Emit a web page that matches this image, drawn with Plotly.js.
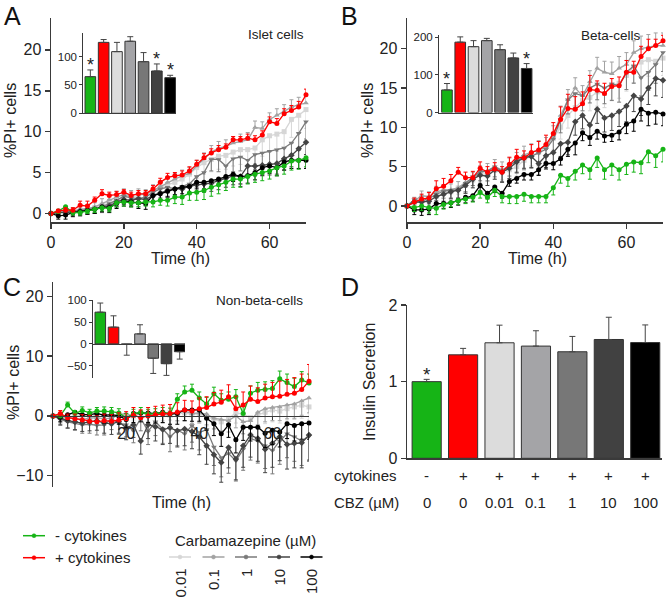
<!DOCTYPE html>
<html><head><meta charset="utf-8">
<script src="https://cdn.plot.ly/plotly-3.0.1.min.js"></script>
<style>html,body{margin:0;padding:0;background:#fff}#plot{width:667px;height:599px}</style>
</head><body><div id="plot"></div>
<script>
// ---------- DATA ----------
const time = [0,2,4,6,8,10,12,14,16,18,20,22,24,26,28,30,32,34,36,38,40,42,44,46,48,50,52,54,56,58,60,62,64,66,68,70];

// Panel A: Islet cells
const aGreen = [0,0.3,0.8,0.1,0.1,0.3,0.5,0.7,0.6,1.3,1.4,1.3,1.3,1.4,1.4,1.6,1.6,2.0,2.0,2.5,2.6,2.8,3.2,3.5,3.8,4.2,4.2,4.5,4.8,5.0,5.2,5.6,5.8,6.4,6.5,6.8];
const aRed   = [0,0.3,0.4,0.4,1.0,0.9,1.6,2.4,2.2,2.3,2.6,2.2,2.4,2.4,3.0,3.8,4.4,4.6,4.7,5.2,6.0,6.8,7.4,7.8,8.1,9.0,9.0,9.2,9.0,9.6,11.2,11.0,12.2,12.6,13.0,14.5];
const aC001  = [0,0.1,0.2,0.3,0.4,0.5,0.7,1.0,1.3,1.7,2.0,2.0,2.2,2.4,2.7,3.2,3.5,3.8,4.2,4.8,5.6,6.2,6.6,7.0,7.1,7.5,7.8,7.8,8.0,9.0,9.5,9.7,10.0,11.5,12.0,12.7];
const aC01   = [0,0.2,0.3,0.3,0.5,0.6,0.8,1.2,1.7,2.0,2.3,2.2,2.4,2.3,2.8,3.3,3.8,4.2,4.6,4.9,5.8,6.7,7.5,8.0,8.2,8.6,8.8,9.0,10.5,10.4,11.5,12.0,12.5,13.0,13.3,13.5];
const aC1    = [0,0.1,0.2,0.2,0.3,0.5,0.6,0.8,1.2,1.6,2.1,1.9,1.8,2.0,2.6,3.0,3.2,3.0,3.3,3.6,4.5,5.0,6.6,6.6,5.8,6.7,6.9,6.5,7.2,7.4,7.6,7.8,8.0,8.6,9.8,11.2];
const aC10   = [0,0.1,0.1,0.2,0.3,0.4,0.5,0.7,0.9,1.4,1.7,1.6,1.8,1.7,2.2,2.5,2.8,3.0,3.0,3.3,3.5,3.6,3.7,4.0,4.3,4.6,4.5,5.8,5.8,5.9,6.0,6.1,6.7,7.1,7.9,8.7];
const aC100  = [0,-0.3,-0.2,0.1,0.2,0.4,0.5,0.8,0.7,1.2,1.5,1.4,1.3,1.2,2.2,2.4,2.7,3.0,3.2,3.3,3.8,3.8,4.0,4.2,4.5,4.8,4.5,4.6,5.0,5.6,5.8,5.6,6.3,6.5,6.5,6.5];
const aGreenErr = [0,0.3,0.4,0.3,0.3,0.3,0.4,0.4,0.4,0.5,0.5,0.5,0.5,0.5,0.6,0.6,0.7,0.8,0.9,0.9,1.0,1.1,1.1,1.1,1.0,1.0,1.0,0.9,1.0,1.0,1.0,1.0,1.0,1.1,1.1,1.1];
const aRedErr   = [0,0.2,0.3,0.3,0.5,0.6,0.4,0.5,0.4,0.4,0.3,0.4,0.4,0.4,0.4,0.5,0.5,0.4,0.5,0.5,0.5,0.5,0.5,0.5,0.4,0.4,0.4,0.5,0.5,0.5,0.6,0.6,0.6,0.6,0.7,0.7];
const aC001Err  = [0,0.3,0.4,0.4,0.5,0.5,0.6,0.6,0.7,0.7,0.7,0.8,0.8,0.8,0.8,0.9,1.0,1.0,1.1,1.2,1.3,1.4,1.5,1.6,1.7,1.7,1.8,1.8,1.9,2.0,2.0,2.1,2.1,2.2,2.2,2.3];
const aC01Err   = [0,0.3,0.4,0.4,0.5,0.5,0.5,0.6,0.6,0.7,0.7,0.6,0.6,0.6,0.7,0.7,0.7,0.7,0.7,0.7,0.7,0.7,0.8,0.8,0.8,0.8,0.9,0.9,0.8,0.8,0.8,0.8,0.8,0.9,0.9,0.9];
const aC1Err    = [0,0.3,0.4,0.5,0.5,0.6,0.6,0.7,0.8,0.8,0.9,0.9,1.0,1.0,1.0,1.1,1.1,1.2,1.2,1.3,1.3,1.4,1.4,1.5,1.6,1.6,1.7,1.7,1.8,1.8,1.9,1.9,2.0,2.0,2.1,2.1];
const aC10Err   = [0,0.3,0.3,0.4,0.4,0.5,0.5,0.5,0.6,0.6,0.6,0.7,0.7,0.7,0.8,0.8,0.8,0.9,0.9,0.9,1.0,1.0,1.0,1.1,1.1,1.1,1.2,1.2,1.2,1.3,1.3,1.3,1.4,1.4,1.4,1.5];
const aC100Err  = [0,0.4,0.5,0.5,0.5,0.5,0.5,0.6,0.6,0.6,0.6,0.6,0.7,0.7,0.7,0.7,0.7,0.7,0.8,0.8,0.8,0.8,0.8,0.8,0.8,0.9,0.9,0.9,0.9,0.9,0.9,1.0,1.0,1.0,1.0,1.0];

// Panel B: Beta-cells
const bGreen = [0,-0.2,0,-0.2,-0.3,0.2,0.4,0.7,0.9,1.1,1.7,1.1,2.0,1.2,1.2,1.2,1.5,1.2,1.2,1.2,2.3,3.9,3.5,4.4,5.2,4.6,6.1,4.6,5.2,4.6,5.3,5.6,5.5,6.9,6.4,7.2];
const bRed   = [0,0.5,0.9,1.0,2.2,2.5,3.2,4.3,3.6,3.6,4.8,4.3,4.7,4.3,5.3,6.2,6.1,6.8,7.1,7.8,9.2,11.0,12.4,12.3,13.0,14.8,14.7,14.3,15.2,15.3,17.0,17.0,19.0,20.0,20.4,21.0];
const bC001  = [0,0.3,0.6,0.8,1.2,1.6,1.8,2.3,2.6,3.3,4.0,4.1,4.5,4.4,4.6,5.0,5.8,6.4,6.8,7.6,8.6,10.0,11.5,12.5,13.4,13.8,14.5,14.3,15.4,15.6,16.6,17.7,18.3,18.6,18.4,18.8];
const bC01   = [0,0.6,1.3,1.2,1.8,2.0,2.1,2.3,3.0,3.5,4.2,4.5,5.0,4.6,5.1,5.8,6.5,6.8,7.2,7.5,9.0,11.5,13.5,15.0,14.0,15.8,17.5,17.0,16.8,17.5,18.0,19.5,20.0,20.2,20.4,20.4];
const bC1    = [0,0.8,0.6,1.0,1.5,1.9,2.0,2.0,2.9,3.7,4.4,4.4,5.0,4.4,5.2,5.7,6.3,6.3,6.7,7.2,8.5,11.0,13.5,14.3,14.0,15.0,15.5,15.0,15.5,15.3,17.0,17.8,16.3,17.0,18.0,19.5];
const bC10   = [0,0.5,0.5,0.6,1.2,1.5,1.8,2.0,2.6,3.4,3.9,3.8,4.6,4.3,4.8,5.6,6.1,6.3,5.4,6.4,6.8,7.9,8.1,10.7,11.5,10.3,12.3,11.2,11.5,12.0,12.7,14.0,13.6,15.0,16.2,16.0];
const bC100  = [0,-0.5,-0.5,-0.4,0.3,0.3,0.4,0.7,1.1,1.3,2.6,1.6,2.4,1.6,3.1,3.5,4.0,4.0,4.6,5.4,5.4,6.0,7.2,8.0,9.3,8.7,9.5,8.9,9.0,9.4,10.4,10.8,12.3,11.8,11.9,11.7];
const bGreenErr = [0,0.5,0.6,0.7,0.8,0.6,0.5,0.5,0.6,0.6,0.7,0.7,0.8,0.8,0.9,0.9,0.9,0.8,0.8,0.8,0.9,1.0,1.0,1.1,1.1,1.2,1.2,1.2,1.3,1.3,1.3,1.3,1.4,1.4,1.5,1.6];
const bRedErr   = [0,0.5,0.6,0.7,1.0,1.0,0.8,0.6,0.7,0.8,0.8,0.7,0.8,0.7,0.9,1.0,0.9,1.0,1.1,1.2,1.4,1.6,1.8,1.6,1.5,1.8,1.2,1.3,1.0,1.1,1.5,1.4,1.3,1.2,0.8,0.7];
const bC001Err  = [0,0.5,0.6,0.6,0.7,0.7,0.8,0.8,0.9,0.9,1.0,1.0,1.1,1.1,1.2,1.2,1.3,1.3,1.4,1.4,1.5,1.5,1.6,1.6,1.7,1.7,1.8,1.8,1.9,1.9,2.0,2.0,2.1,2.1,2.2,2.2];
const bC01Err   = [0,0.5,0.6,0.6,0.7,0.7,0.7,0.8,0.8,0.8,0.9,0.9,0.9,1.0,1.0,1.0,1.1,1.1,1.1,1.2,1.2,1.2,1.3,1.3,1.3,1.4,1.4,1.4,1.5,1.5,1.5,1.5,1.6,1.6,1.6,1.6];
const bC1Err    = [0,0.5,0.6,0.7,0.8,0.9,1.0,1.0,1.1,1.1,1.2,1.2,1.3,1.3,1.4,1.4,1.5,1.5,1.6,1.6,1.7,1.7,1.8,1.8,1.9,1.9,2.0,2.0,2.1,2.1,2.2,2.2,2.3,2.3,2.4,2.4];
const bC10Err   = [0,0.6,0.6,0.7,0.8,0.9,0.9,1.0,1.0,1.1,1.1,1.2,1.2,1.3,1.3,1.4,1.4,1.4,1.5,1.5,1.5,1.6,1.6,1.7,1.7,1.8,1.8,1.8,1.9,1.9,2.0,2.0,2.1,2.1,2.2,2.2];
const bC100Err  = [0,0.6,0.7,0.7,0.7,0.6,0.6,0.6,0.7,0.7,0.7,0.7,0.7,0.6,0.6,0.6,0.7,0.7,0.7,0.7,0.8,0.8,0.9,1.5,1.0,1.0,1.0,0.8,0.8,1.0,1.2,1.3,1.5,1.6,1.5,1.5];

// Panel C: Non-beta-cells
const cGreen = [0,0,1.8,0.4,0.9,0.5,0.8,0.8,0.7,0.5,-0.3,0.3,0.6,0.3,0.4,0.5,0.4,2.8,4.0,4.3,3.0,2.0,3.7,2.6,2.8,3.2,0.4,3.8,4.3,4.4,4.6,6.2,5.6,4.9,6.0,5.5];
const cRed   = [0,0.4,-0.3,-0.5,-0.7,-0.9,-1.0,-0.8,-0.9,-0.7,-0.5,0.1,-0.3,0,0.2,0.3,0.4,0.6,1.0,0.8,1.2,1.4,2.0,2.3,3.2,1.2,1.8,2.8,2.4,3.0,3.2,3.3,3.6,3.8,4.4,5.8];
const cC001  = [0,-0.2,-0.3,0.0,0.1,-0.2,0.2,0.3,0.0,0.2,0.1,0.3,0.5,0.2,0.2,0.4,0.6,0.3,0.5,0.2,0.4,-0.2,-0.5,-1.0,-0.4,0.5,0.3,-0.3,0.2,0.6,1.0,0.8,1.2,1.5,1.8,1.5];
const cC01   = [0,-0.4,-0.3,-0.5,-0.6,-0.4,-0.3,-0.5,-0.4,0.2,0.4,-0.2,0.6,0.2,0.4,0.3,0.0,0.8,0.8,0.4,0.5,0.3,-0.4,-0.6,-0.8,0.0,-1.0,-0.8,0.6,1.2,1.4,1.5,1.8,2.0,2.5,3.0];
const cC1    = [0,-0.6,-1.0,-1.2,-1.5,-1.4,-1.6,-1.5,-0.5,-1.2,-1.5,-2.5,-0.4,-2.6,-1.0,-2.2,-3.5,-2.4,-3.0,-1.6,-2.8,-2.3,-5.2,-7.0,-6.3,-7.5,-5.6,-3.8,-4.2,-5.0,-5.8,-4.2,-3.0,-3.5,-4.2,-3.4];
const cC10   = [0,-0.4,-0.8,-1.0,-1.2,-1.0,-0.8,-1.2,-1.3,-1.0,-2.0,-1.5,-4.2,-1.5,-1.8,-2.3,-2.0,-2.5,-2.2,-2.6,-3.5,-5.0,-6.5,-7.8,-5.3,-7.2,-5.0,-3.2,-3.8,-5.6,-4.6,-3.5,-4.8,-4.6,-4.5,-3.2];
const cC100  = [0,-0.2,0.2,0.6,0.2,0.2,0.4,0.1,0.2,0.0,-0.6,0.4,0.5,0.5,0.4,0.6,0.3,0.4,1.0,1.0,1.0,-0.4,-1.3,-3.0,-1.5,-4.0,-1.9,-1.9,-1.9,-2.9,-2.4,-2.7,-1.3,-1.6,-1.3,-1.2];
const cGreenErr = [0,0.4,0.5,0.5,0.6,0.6,0.6,0.7,0.7,0.7,0.7,0.8,0.8,0.8,0.8,0.9,0.9,0.9,1.0,1.0,1.0,1.1,1.1,1.1,1.2,1.2,1.2,1.2,1.3,1.3,1.3,1.3,1.4,1.4,1.4,1.5];
const cRedErr   = [0,0.5,0.6,0.8,0.9,1.0,1.0,1.1,1.1,1.2,1.2,1.3,1.3,1.4,1.4,1.5,1.5,1.6,1.6,1.7,1.8,1.8,1.9,2.0,2.0,2.1,2.2,2.2,2.3,2.3,2.4,2.5,2.5,2.6,2.6,2.8];
const cC001Err  = [0,0.5,0.6,0.6,0.7,0.7,0.8,0.8,0.9,0.9,1.0,1.0,1.1,1.1,1.2,1.2,1.3,1.3,1.4,1.4,1.5,1.5,1.6,1.6,1.7,1.7,1.8,1.8,1.9,1.9,2.0,2.0,2.1,2.1,2.2,2.2];
const cC01Err   = [0,0.6,0.7,0.8,0.9,1.0,1.0,1.1,1.1,1.2,1.2,1.3,1.3,1.4,1.4,1.5,1.5,1.6,1.6,1.7,1.7,1.8,1.8,1.9,1.9,2.0,2.0,2.1,2.1,2.2,2.2,2.3,2.3,2.4,2.4,2.5];
const cC1Err    = [0,1.0,1.1,1.2,1.4,1.5,1.6,1.7,1.8,1.9,2.0,2.0,2.1,2.2,2.3,2.4,2.5,2.6,2.7,2.8,2.9,3.0,3.1,3.2,3.3,3.4,3.5,3.6,3.7,3.8,3.9,3.9,4.0,4.1,4.1,4.2];
const cC10Err   = [0,1.0,1.2,1.3,1.4,1.5,1.6,1.7,1.8,1.9,2.0,2.1,2.2,2.3,2.4,2.5,2.6,2.7,2.8,2.9,3.0,3.1,3.2,3.3,3.4,3.5,3.6,3.7,3.8,3.9,4.0,4.0,4.1,4.1,4.2,4.2];
const cC100Err  = [0,0.8,0.9,1.0,1.1,1.2,1.2,1.3,1.3,1.4,1.4,1.5,1.5,1.6,1.6,1.7,1.7,1.8,1.8,1.9,1.9,2.0,2.0,2.1,2.1,2.2,2.2,2.3,2.3,2.4,2.4,2.5,2.5,2.6,2.6,2.7];

// Bar groups (insets and panel D)
const conds = ['- cyt', '+ cyt', 'CBZ 0.01', 'CBZ 0.1', 'CBZ 1', 'CBZ 10', 'CBZ 100'];
const insetA = [64.6, 125, 108.7, 127, 91, 74.6, 62.8];
const insetAErr = [11.8, 5, 16.3, 8, 16, 12.4, 4.2];
const insetAStar = [1, 0, 0, 0, 0, 1, 1];
const insetB = [60, 187, 175, 191, 167, 145, 117];
const insetBErr = [17, 14, 16, 6, 13, 13, 13];
const insetBStar = [1, 0, 0, 0, 0, 0, 1];
const insetC = [73, 38.6, -1, 23, -33, -45.5, -18];
const insetCErr = [21, 26, 25, 21, 35, 27, 17];
const insulin = [1.0, 1.35, 1.507, 1.464, 1.39, 1.55, 1.51];
const insulinErr = [0.03, 0.084, 0.23, 0.2, 0.2, 0.29, 0.23];
const insulinStar = [1, 0, 0, 0, 0, 0, 0];
const cytokineSigns = ['-', '+', '+', '+', '+', '+', '+'];
const cbzLabels = ['0', '0', '0.01', '0.1', '1', '10', '100'];
const cbzLegend = ['0.01', '0.1', '1', '10', '100'];

// ---------- STYLE ----------
const W = 667, H = 599;
const fx = p => p / W;
const fy = p => 1 - p / H;
const GREEN = '#16b416', RED = '#ff0000';
const barColors = [GREEN, RED, '#dcdcdc', '#a4a4a7', '#777777', '#414141', '#000000'];
const cbzColors = ['#d6d6d6', '#a2a2a2', '#7a7a7a', '#444444', '#000000'];
const cbzSymbols = ['square', 'triangle-up', 'triangle-down', 'diamond', 'circle'];
const FONT = 'Liberation Sans, Arial, sans-serif';
const AX = '#3a3a3a';

function lineTrace(xa, ya, y, err, up, color, symbol) {
  const zeros = err.map(() => 0);
  return {
    type: 'scatter', mode: 'lines+markers', x: time, y: y, xaxis: xa, yaxis: ya,
    line: {color: color, width: 1.3}, marker: {color: color, size: 5, symbol: symbol},
    cliponaxis: false,
    error_y: {type: 'data', symmetric: false, array: up ? err : zeros, arrayminus: up ? zeros : err,
              color: color, thickness: 1, width: 2}
  };
}
function barTrace(xa, ya, vals, errs) {
  return {
    type: 'bar', x: conds, y: vals, xaxis: xa, yaxis: ya, width: 0.8,
    marker: {color: barColors, line: {color: '#333', width: 1}},
    error_y: {type: 'data', symmetric: false,
              array: errs.map((e, i) => vals[i] >= 0 ? e : 0),
              arrayminus: errs.map((e, i) => vals[i] < 0 ? e : 0),
              color: '#444', thickness: 1, width: 3}
  };
}

const traces = [];
function panelLines(xa, ya, g, r, cs, ge, re, ces, gUp, rUp, cUps) {
  for (let k = 0; k < 5; k++) traces.push(lineTrace(xa, ya, cs[k], ces[k], cUps[k], cbzColors[k], cbzSymbols[k]));
  traces.push(lineTrace(xa, ya, g, ge, gUp, GREEN, 'circle'));
  traces.push(lineTrace(xa, ya, r, re, rUp, RED, 'circle'));
}
panelLines('x', 'y', aGreen, aRed, [aC001, aC01, aC1, aC10, aC100], aGreenErr, aRedErr,
  [aC001Err, aC01Err, aC1Err, aC10Err, aC100Err], false, true, [false, true, false, false, false]);
panelLines('x2', 'y2', bGreen, bRed, [bC001, bC01, bC1, bC10, bC100], bGreenErr, bRedErr,
  [bC001Err, bC01Err, bC1Err, bC10Err, bC100Err], false, true, [false, true, false, false, false]);
panelLines('x3', 'y3', cGreen, cRed, [cC001, cC01, cC1, cC10, cC100], cGreenErr, cRedErr,
  [cC001Err, cC01Err, cC1Err, cC10Err, cC100Err], true, true, [false, false, false, false, false]);

traces.push(barTrace('x4', 'y4', insulin, insulinErr));
traces.push(barTrace('x5', 'y5', insetA, insetAErr));
traces.push(barTrace('x6', 'y6', insetB, insetBErr));
traces.push(barTrace('x7', 'y7', insetC, insetCErr));

function ax(o) {
  return Object.assign({showgrid: false, zeroline: false, showline: true, linecolor: AX, linewidth: 1.5,
    ticks: 'outside', ticklen: 5, tickwidth: 1.5, tickcolor: AX, fixedrange: true,
    tickfont: {size: 16, color: '#222', family: FONT}}, o);
}
function inset(o) {
  return ax(Object.assign({linewidth: 1, tickwidth: 1, ticklen: 3, tickfont: {size: 11.5, color: '#222', family: FONT}}, o));
}
const cYRange = [-11.9, 22.4], cYDom = [fy(487), fy(282)];
const cZero = cYDom[0] + (0 - cYRange[0]) / (cYRange[1] - cYRange[0]) * (cYDom[1] - cYDom[0]);
const i7YRange = [-78.5, 101], i7YDom = [fy(378), fy(300)];
const i7Zero = i7YDom[0] + (0 - i7YRange[0]) / (i7YRange[1] - i7YRange[0]) * (i7YDom[1] - i7YDom[0]);

const layout = {
  width: W, height: H, margin: {l: 0, r: 0, t: 0, b: 0},
  paper_bgcolor: '#fff', plot_bgcolor: 'rgba(0,0,0,0)', showlegend: false,
  font: {family: FONT, size: 16, color: '#222'},
  xaxis: ax({domain: [fx(51), fx(306)], range: [0, 70], tickvals: [0, 20, 40, 60], anchor: 'y'}),
  yaxis: ax({domain: [fy(222), fy(18)], range: [-1.05, 23.9], tickvals: [0, 5, 10, 15, 20], anchor: 'x'}),
  xaxis2: ax({domain: [fx(407), fx(663)], range: [0, 70], tickvals: [0, 20, 40, 60], anchor: 'y2'}),
  yaxis2: ax({domain: [fy(222), fy(18)], range: [-2.04, 23.9], tickvals: [0, 5, 10, 15, 20], anchor: 'x2'}),
  xaxis3: ax({domain: [fx(53), fx(309)], range: [0, 70], tickvals: [20, 40, 60], anchor: 'free', position: cZero, ticklen: 3, linewidth: 1.2}),
  yaxis3: ax({domain: cYDom, range: cYRange, tickvals: [-10, 0, 10, 20], anchor: 'x3'}),
  xaxis4: ax({domain: [fx(407), fx(662)], type: 'category', range: [-0.54, 6.46], showticklabels: false, ticks: '', anchor: 'y4'}),
  yaxis4: ax({domain: [fy(458.3), fy(305)], range: [0, 2], tickvals: [0, 1, 2], anchor: 'x4'}),
  xaxis5: inset({domain: [fx(83.3), fx(176)], type: 'category', range: [-0.53, 6.44], showticklabels: false, ticks: '', anchor: 'y5'}),
  yaxis5: inset({domain: [fy(113.3), fy(33.3)], range: [0, 141], tickvals: [0, 50, 100], anchor: 'x5'}),
  xaxis6: inset({domain: [fx(439), fx(533)], type: 'category', range: [-0.6, 6.48], showticklabels: false, ticks: '', anchor: 'y6'}),
  yaxis6: inset({domain: [fy(112.5), fy(35)], range: [0, 206], tickvals: [0, 100, 200], anchor: 'x6'}),
  xaxis7: inset({domain: [fx(93), fx(185)], type: 'category', range: [-0.55, 6.4], showticklabels: false, ticks: '', anchor: 'free', position: i7Zero}),
  yaxis7: inset({domain: i7YDom, range: i7YRange, tickvals: [-50, 0, 50, 100], anchor: 'x7'}),
  annotations: [], shapes: []
};
const A = layout.annotations, S = layout.shapes;
function txt(x, y, text, o) {
  A.push(Object.assign({xref: 'paper', yref: 'paper', x: fx(x), y: fy(y), text: text, showarrow: false,
    xanchor: 'center', yanchor: 'middle',
    font: {size: 16, color: '#222', family: FONT}}, o || {}));
}
// panel letters
txt(12.5, 16, 'A', {font: {size: 25, color: '#111', family: FONT}});
txt(350, 16, 'B', {font: {size: 25, color: '#111', family: FONT}});
txt(11.5, 287, 'C', {font: {size: 25, color: '#111', family: FONT}});
txt(350, 287, 'D', {font: {size: 25, color: '#111', family: FONT}});
// panel subtitles
txt(306, 35, 'Islet cells', {xanchor: 'right', font: {size: 13.5, color: '#222', family: FONT}});
txt(643, 36, 'Beta-cells', {xanchor: 'right', font: {size: 13.5, color: '#222', family: FONT}});
txt(305, 300.7, 'Non-beta-cells', {xanchor: 'right', font: {size: 13.5, color: '#222', family: FONT}});
// axis titles
txt(11, 121, '%PI+ cells', {textangle: -90});
txt(180, 258, 'Time (h)');
txt(368, 121, '%PI+ cells', {textangle: -90});
txt(537, 258, 'Time (h)');
txt(13, 383, '%PI+ cells', {textangle: -90});
txt(182, 502, 'Time (h)');
txt(369, 382, 'Insulin Secretion', {textangle: -90});
// stars on bars (category index positions)
function stars(xa, ya, vals, errs, flags, size, shift) {
  flags.forEach((f, i) => {
    if (f) A.push({xref: xa, yref: ya, x: i, y: vals[i] + errs[i], text: '*', showarrow: false,
      xanchor: 'center', yanchor: 'bottom', yshift: shift, font: {size: size, color: '#222', family: FONT}});
  });
}
stars('x5', 'y5', insetA, insetAErr, insetAStar, 18, -7);
stars('x6', 'y6', insetB, insetBErr, insetBStar, 18, -7);
stars('x4', 'y4', insulin, insulinErr, insulinStar, 19, -8);
// rows under D
const LBL = {size: 15, color: '#222', family: FONT};
txt(332, 475, 'cytokines', {xanchor: 'left', font: LBL});
txt(332, 502, 'CBZ (µM)', {xanchor: 'left', font: LBL});
conds.forEach((c, i) => {
  A.push({xref: 'x4', yref: 'paper', x: i, y: fy(475), text: cytokineSigns[i], showarrow: false,
    xanchor: 'center', yanchor: 'middle', font: LBL});
  A.push({xref: 'x4', yref: 'paper', x: i, y: fy(502), text: cbzLabels[i], showarrow: false,
    xanchor: 'center', yanchor: 'middle', font: LBL});
});
// legend bottom-left
function legendLine(x0, x1, y, color) {
  S.push({type: 'line', xref: 'paper', yref: 'paper', x0: fx(x0), x1: fx(x1), y0: fy(y), y1: fy(y), line: {color: color, width: 1.5}});
  const cx = (x0 + x1) / 2;
  S.push({type: 'circle', xref: 'paper', yref: 'paper', x0: fx(cx - 2), x1: fx(cx + 2), y0: fy(y + 2), y1: fy(y - 2),
    fillcolor: color, line: {color: color, width: 0.5}});
}
legendLine(23, 45, 535.7, GREEN);
legendLine(23, 45, 557.7, RED);
txt(53, 535.7, '- cytokines', {xanchor: 'left', font: LBL});
txt(53, 557.7, '+ cytokines', {xanchor: 'left', font: LBL});
txt(245, 540, 'Carbamazepine (µM)', {font: LBL});
const legX = [180, 213.5, 246, 279, 311.5];
cbzLegend.forEach((lab, k) => {
  legendLine(legX[k] - 11, legX[k] + 11, 557, cbzColors[k]);
  txt(legX[k], 567, lab, {textangle: -90, yanchor: 'top', font: LBL});
});

Plotly.newPlot('plot', traces, layout, {staticPlot: true});
</script></body></html>
